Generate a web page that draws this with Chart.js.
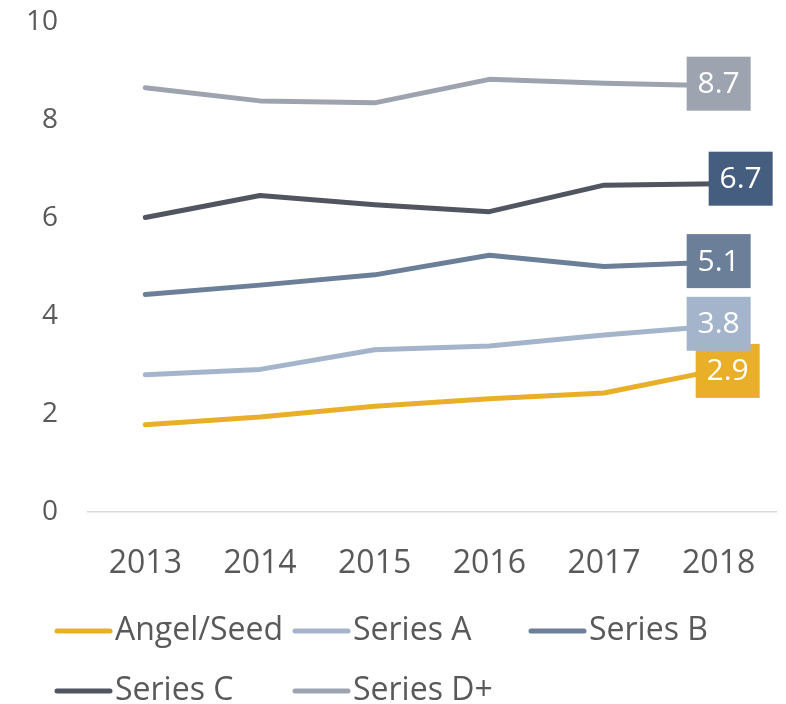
<!DOCTYPE html>
<html>
<head>
<meta charset="utf-8">
<script src="https://cdn.jsdelivr.net/npm/chart.js@4"></script>
<style>
  body { margin: 0; background: #fff; }
  #wrap { position: relative; width: 786px; height: 704px; }
</style>
</head>
<body>
<div id="wrap"><canvas id="chart"></canvas></div>
<script>
const years = ['2013', '2014', '2015', '2016', '2017', '2018'];
const angelSeed = [1.78, 1.94, 2.16, 2.31, 2.43, 2.9];
const seriesA = [2.80, 2.91, 3.31, 3.39, 3.61, 3.8];
const seriesB = [4.44, 4.63, 4.84, 5.24, 5.01, 5.1];
const seriesC = [6.01, 6.46, 6.27, 6.13, 6.67, 6.7];
const seriesD = [8.66, 8.39, 8.35, 8.83, 8.75, 8.7];
const yTicks = [0, 2, 4, 6, 8, 10];

const FONT = "'Open Sans', 'Noto Sans', sans-serif";
const TEXT = '#595959';

function series(label, data, color, boxColor, dx, dy) {
    return {
        label: label,
        data: data,
        borderColor: color,
        backgroundColor: color,
        borderWidth: 5,
        borderCapStyle: 'round',
        borderJoinStyle: 'round',
        pointRadius: 0,
        tension: 0,
        boxColor: boxColor,
        labelDx: dx,
        labelDy: dy
    };
}

// value box at the end of each line
const endLabels = {
    id: 'endLabels',
    afterDatasetsDraw(chart) {
        const ctx = chart.ctx;
        ctx.save();
        chart.data.datasets.forEach((ds, i) => {
            const meta = chart.getDatasetMeta(i);
            const pt = meta.data[meta.data.length - 1];
            const cx = pt.x + ds.labelDx, cy = pt.y + ds.labelDy;
            ctx.fillStyle = ds.boxColor;
            ctx.fillRect(cx - 32, cy - 27, 64, 54);
            ctx.fillStyle = '#fff';
            ctx.font = '30px ' + FONT;
            ctx.textAlign = 'center';
            ctx.textBaseline = 'middle';
            ctx.fillText(ds.data[ds.data.length - 1].toFixed(1), cx, cy + 1);
        });
        ctx.restore();
    }
};

// legend laid out in columns like the original
const columnLegend = {
    id: 'columnLegend',
    afterDraw(chart) {
        const ctx = chart.ctx;
        const cols = [57, 295, 531];
        const rows = [631, 691];
        ctx.save();
        ctx.font = '32px ' + FONT;
        ctx.textBaseline = 'middle';
        ctx.textAlign = 'left';
        chart.data.datasets.forEach((ds, i) => {
            const x = cols[i % 3], y = rows[Math.floor(i / 3)];
            ctx.strokeStyle = ds.borderColor;
            ctx.lineWidth = 5;
            ctx.lineCap = 'round';
            ctx.beginPath();
            ctx.moveTo(x, y);
            ctx.lineTo(x + 53, y);
            ctx.stroke();
            ctx.fillStyle = TEXT;
            ctx.fillText(ds.label, x + 58, y);
        });
        ctx.restore();
    }
};

new Chart(document.getElementById('chart'), {
    type: 'line',
    data: {
        labels: years,
        datasets: [
            series('Angel/Seed', angelSeed, '#e9af28', '#e9af28', 9, 1),
            series('Series A', seriesA, '#a4b5cb', '#a4b5cb', 0, -2),
            series('Series B', seriesB, '#6b7f99', '#6b7f99', 0, -1),
            series('Series C', seriesC, '#51555f', '#455e80', 22, -5),
            series('Series D+', seriesD, '#9da3af', '#9da3af', 0, -2)
        ]
    },
    options: {
        responsive: true,
        maintainAspectRatio: false,
        animation: false,
        layout: {
            padding: { top: 22, right: 10, bottom: 112, left: 0 }
        },
        plugins: {
            legend: { display: false },
            tooltip: { enabled: false }
        },
        scales: {
            x: {
                offset: true,
                grid: { display: false },
                border: { display: true, color: '#d9d9d9', width: 1.5 },
                ticks: {
                    color: TEXT,
                    font: { family: FONT, size: 32 },
                    padding: 25,
                    maxRotation: 0
                },
                afterFit: s => { s.height = 80; s.paddingLeft = 0; s.paddingRight = 0; }
            },
            y: {
                min: 0,
                max: 10,
                grid: { display: false },
                border: { display: false },
                afterBuildTicks: s => { s.ticks = yTicks.map(v => ({ value: v })); },
                ticks: {
                    color: TEXT,
                    font: { family: FONT, size: 28 },
                    padding: 22
                },
                afterFit: s => { s.width = 88; s.paddingTop = 0; s.paddingBottom = 0; }
            }
        }
    },
    plugins: [endLabels, columnLegend]
});
</script>
</body>
</html>
